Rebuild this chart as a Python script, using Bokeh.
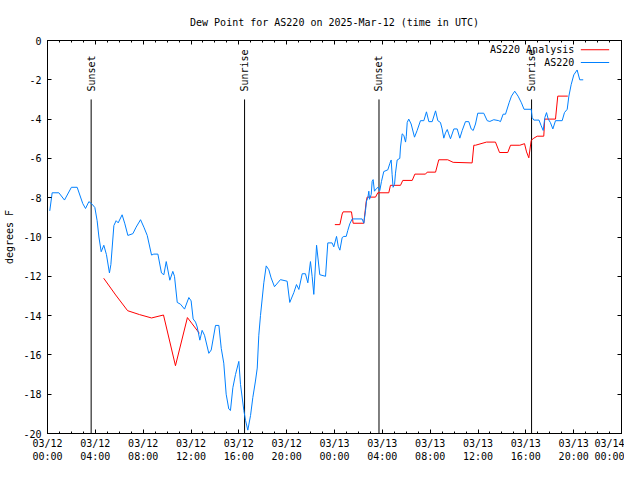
import math
from bokeh.plotting import figure
from bokeh.models import FixedTicker, LinearAxis, Range1d
from bokeh.core.properties import value
from bokeh.embed import file_html
from bokeh.resources import INLINE

FONT = "DejaVu Sans Mono"

# ---- data (hours since 03/12 00:00 UTC, degrees F) ----
blue_hours = [0.19, 0.39, 0.95, 1.42, 2.0, 2.48, 2.95, 3.18, 3.46, 3.73, 3.96, 4.15, 4.3, 4.49, 4.71,
              4.93, 5.18, 5.3, 5.55, 5.74, 5.91, 6.24, 6.47, 6.72, 7.14, 7.41, 7.78, 8.06, 8.34, 8.7,
              8.89, 9.23, 9.53, 9.73, 9.93, 10.23, 10.48, 10.62, 10.85, 11.12, 11.46, 11.82, 12.01,
              12.18, 12.38, 12.52, 12.74, 12.93, 13.13, 13.49, 13.69, 14.05, 14.33, 14.53, 14.74,
              14.94, 15.16, 15.3, 15.5, 15.72, 16.0, 16.14, 16.42, 16.56, 16.75, 16.98, 17.17, 17.39,
              17.54, 17.67, 17.81, 18.09, 18.29, 18.51, 18.7, 18.98, 19.48, 20.04, 20.26, 20.6, 20.82,
              21.02, 21.3, 21.57, 21.77, 21.99, 22.13, 22.27, 22.5, 22.77, 23.25, 23.44, 23.8, 23.94,
              24.17, 24.31, 24.45, 24.64, 24.78, 24.98, 25.11, 25.28, 25.48, 26.31, 26.45, 26.59,
              26.68, 26.79, 26.87, 26.93, 27.07, 27.15, 27.23, 27.34, 27.51, 27.65, 27.79, 27.93,
              28.12, 28.46, 28.63, 28.74, 28.82, 28.9, 29.02, 29.1, 29.24, 29.46, 29.52, 29.66, 29.8,
              29.94, 30.0, 30.08, 30.21, 30.41, 30.69, 30.91, 31.19, 31.47, 31.69, 31.89, 32.17,
              32.45, 32.64, 32.86, 33.0, 33.14, 33.28, 33.43, 33.55, 33.7, 33.98, 34.26, 34.48,
              34.68, 34.95, 35.23, 35.43, 35.6, 35.79, 35.98, 36.48, 36.77, 36.99, 37.32, 37.74,
              37.88, 38.1, 38.3, 38.6, 38.8, 39.07, 39.35, 39.63, 39.85, 40.45, 40.53, 40.67, 41.1,
              41.28, 41.45, 41.59, 41.73, 41.87, 42.05, 42.26, 42.48, 43.04, 43.23, 43.46, 43.6,
              43.79, 44.01, 44.29, 44.51, 44.8]
blue_values = [-8.67, -7.75, -7.75, -8.12, -7.47, -7.47, -8.3, -8.55, -8.2, -8.33, -8.5, -9.17, -10.0,
               -10.75, -10.42, -10.9, -11.83, -11.4, -9.42, -9.17, -9.28, -8.87, -9.33, -9.92, -9.83,
               -9.5, -9.12, -9.5, -9.92, -10.92, -10.87, -10.87, -11.83, -11.92, -11.25, -12.2,
               -11.75, -12.0, -13.33, -13.42, -13.67, -13.08, -13.25, -14.17, -14.33, -14.58, -15.25,
               -14.75, -15.0, -15.92, -15.75, -14.5, -14.5, -15.67, -16.42, -18.0, -18.75, -18.83,
               -17.67, -17.0, -16.33, -17.5, -18.83, -19.33, -19.83, -19.08, -18.17, -17.33, -16.67,
               -15.0, -14.0, -12.33, -11.47, -11.67, -12.08, -12.53, -12.17, -12.25, -13.33, -12.83,
               -12.42, -12.67, -11.87, -11.87, -12.33, -11.25, -12.0, -12.92, -10.42, -11.92, -12.0,
               -10.3, -10.3, -10.5, -9.97, -10.47, -10.67, -10.03, -9.97, -9.97, -9.67, -9.33, -9.08,
               -9.08, -9.3, -8.67, -8.17, -8.0, -7.67, -8.08, -7.83, -7.17, -7.08, -7.67, -7.53,
               -7.47, -7.63, -7.17, -6.67, -6.58, -6.25, -6.08, -6.83, -7.47, -7.33, -6.75, -6.08,
               -6.0, -5.42, -4.75, -4.83, -5.17, -4.9, -4.17, -4.0, -4.25, -4.92, -4.58, -4.08, -4.08,
               -3.63, -4.13, -4.13, -3.58, -4.08, -4.17, -4.5, -4.97, -4.7, -4.53, -4.75, -5.0, -4.5,
               -4.5, -4.97, -4.58, -4.13, -4.13, -4.5, -4.58, -4.25, -3.7, -3.7, -4.08, -4.12, -4.03,
               -4.08, -4.13, -3.75, -3.75, -3.17, -2.83, -2.58, -2.83, -3.17, -3.5, -3.5, -3.92,
               -4.05, -4.05, -4.33, -4.58, -3.92, -3.67, -4.0, -4.17, -4.5, -4.08, -4.08, -3.67, -3.5,
               -2.83, -2.25, -1.75, -1.5, -2.0, -2.0]

NAN = float("nan")
red_hours = [4.7, 5.7, 6.7, 7.7, 8.7, 9.7, 10.7, 11.7, 12.1, 12.7, 18.0,
             24.03, 24.45, 24.64, 24.72, 25.42, 25.56, 26.45, 26.65, 26.73, 27.43, 27.62, 28.54,
             28.68, 29.52, 29.71, 30.5, 30.72, 31.61, 31.75, 32.45, 32.72, 33.47, 33.92, 35.51,
             35.65, 35.79, 36.71, 37.46, 37.8, 38.49, 38.72, 39.5, 39.89, 40.06, 40.25, 40.45,
             40.67, 40.95, 41.5, 41.58, 42.48, 42.67, 43.51]
red_values = [-12.1, -12.95, -13.75, -13.95, -14.12, -13.97, -16.55, -14.1, -14.42, -14.9, NAN,
              -9.37, -9.37, -8.83, -8.72, -8.72, -9.3, -9.3, -8.2, -7.97, -7.97, -7.75, -7.75,
              -7.37, -7.37, -7.12, -7.12, -6.8, -6.8, -6.7, -6.7, -6.07, -6.07, -6.2, -6.23,
              -5.33, -5.33, -5.17, -5.17, -5.7, -5.7, -5.33, -5.33, -5.25, -5.67, -5.97, -5.08,
              -4.97, -4.87, -4.87, -4.0, -4.0, -2.83, -2.83]

sun_hours = [3.65, 16.48, 27.72, 40.48]
sun_labels = ["Sunset", "Sunrise", "Sunset", "Sunrise"]

x_tick_hours = [0, 4, 8, 12, 16, 20, 24, 28, 32, 36, 40, 44, 48]
x_tick_labels = ["03/12\n00:00", "03/12\n04:00", "03/12\n08:00", "03/12\n12:00", "03/12\n16:00",
                 "03/12\n20:00", "03/13\n00:00", "03/13\n04:00", "03/13\n08:00", "03/13\n12:00",
                 "03/13\n16:00", "03/13\n20:00", "03/14\n00:00"]
x_minor_hours = list(range(0, 49))
y_ticks = [-20, -18, -16, -14, -12, -10, -8, -6, -4, -2, 0]
y_tick_labels = ["-20", "-18", "-16", "-14", "-12", "-10", "-8", "-6", "-4", "-2", "0"]

series_names = ["AS220 Analysis", "AS220"]
series_colors = ["#ff0000", "#0080ff"]

# ---- figure ----
p = figure(width=624, height=464, x_range=Range1d(0, 48), y_range=Range1d(-20, 0),
           output_backend="svg", toolbar_location=None,
           min_border_left=47, min_border_right=3, min_border_top=40, min_border_bottom=30,
           title="Dew Point for AS220 on 2025-Mar-12 (time in UTC)")
p.title.align = "center"
p.title.standoff = 26
p.title.text_font = FONT
p.title.text_font_size = "10px"
p.title.text_font_style = "normal"
p.title.text_color = "black"
p.xgrid.visible = False
p.ygrid.visible = False
p.outline_line_color = "black"
p.outline_line_width = 1
p.background_fill_color = "white"
p.border_fill_color = "white"


def style_axis(ax, minor_len=2):
    ax.axis_line_color = "black"
    ax.major_tick_line_color = "black"
    ax.minor_tick_line_color = "black"
    ax.major_tick_in = 4
    ax.major_tick_out = 0
    ax.minor_tick_in = minor_len
    ax.minor_tick_out = 0
    ax.major_label_text_font = FONT
    ax.major_label_text_font_size = "10px"
    ax.major_label_text_color = "black"


xa = p.xaxis[0]
xa.ticker = FixedTicker(ticks=x_tick_hours, minor_ticks=x_minor_hours)
xa.major_label_overrides = {h: t for h, t in zip(x_tick_hours, x_tick_labels)}
style_axis(xa)
xa.major_label_standoff = 4

ya = p.yaxis[0]
ya.ticker = FixedTicker(ticks=y_ticks, minor_ticks=[])
ya.major_label_overrides = {v: t for v, t in zip(y_ticks, y_tick_labels)}
style_axis(ya)
ya.major_label_standoff = 6
ya.axis_label = "degrees F"
ya.axis_label_text_font = FONT
ya.axis_label_text_font_size = "10px"
ya.axis_label_text_font_style = "normal"
ya.axis_label_text_color = "black"
ya.axis_label_standoff = 5

# mirrored tick marks (no labels): only minor ticks are used, so no label texts exist
top_minor = LinearAxis(ticker=FixedTicker(ticks=[], minor_ticks=x_minor_hours), major_label_standoff=0)
style_axis(top_minor, 2)
p.add_layout(top_minor, "above")
top_major = LinearAxis(ticker=FixedTicker(ticks=[], minor_ticks=x_tick_hours), major_label_standoff=0)
style_axis(top_major, 4)
p.add_layout(top_major, "above")
right_ax = LinearAxis(ticker=FixedTicker(ticks=[], minor_ticks=y_ticks), major_label_standoff=0)
style_axis(right_ax, 4)
p.add_layout(right_ax, "right")

# sunrise / sunset markers
p.segment(x0=sun_hours, y0=[-3] * len(sun_hours), x1=sun_hours, y1=[-20] * len(sun_hours),
          line_color="black", line_width=1)
p.text(x=sun_hours, y=[-2.6] * len(sun_hours), text=sun_labels, angle=math.pi / 2,
       text_align="left", text_baseline="middle", text_font=value(FONT),
       text_font_size="10px", text_color="black")

# series
p.line(red_hours, red_values, line_color=series_colors[0], line_width=1)
p.line(blue_hours, blue_values, line_color=series_colors[1], line_width=1)

# legend (text, then line sample to its right, as in the reference)
leg_y = [-0.47, -1.12]
p.text(x=[44.05] * 2, y=leg_y, text=series_names, text_align="right", text_baseline="middle",
       text_font=value(FONT), text_font_size="10px", text_color="black")
p.segment(x0=[44.6] * 2, y0=leg_y, x1=[46.97] * 2, y1=leg_y, line_color=series_colors, line_width=1)

open("out.html", "w").write(file_html(p, INLINE))
